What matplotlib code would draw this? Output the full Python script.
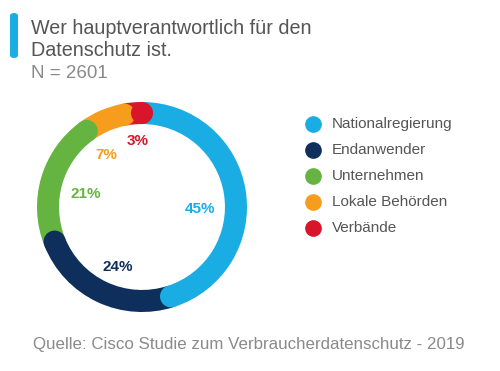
import numpy as np
import matplotlib
matplotlib.use("Agg")
import matplotlib.pyplot as plt
from matplotlib.patches import Circle, FancyBboxPatch

# =========================
# DATEN
# =========================
kategorien = ["Nationalregierung", "Endanwender", "Unternehmen", "Lokale Behörden", "Verbände"]
anteile = [45, 24, 21, 7, 3]
farben = ["#1AADE4", "#0E2E5C", "#65B441", "#F79D1E", "#D8152A"]

titel = "Wer hauptverantwortlich für den\nDatenschutz ist."
untertitel = "N = 2601"
quelle = "Quelle: Cisco Studie zum Verbraucherdatenschutz - 2019"

# Lage der Prozentwerte: Winkelversatz (Grad) und Abstand vom Mittelpunkt
label_versatz = [11, -3, -3, -11.5, 1.5]
label_abstand = [0.55, 0.62, 0.55, 0.60, 0.63]

W, H = 500, 371
plt.rcParams["font.family"] = ["Liberation Sans", "DejaVu Sans"]

fig = plt.figure(figsize=(W / 100, H / 100), dpi=100)
fig.patch.set_facecolor("white")


def fx(px):
    return px / W


def fy(py):
    return 1 - py / H


# =========================
# DONUT
# =========================
cx, cy, r_px = 142, 207, 105
pad = 110
ax = fig.add_axes([fx(cx - pad), fy(cy + pad), 2 * pad / W, 2 * pad / H])
ring = 0.21

wedges, _ = ax.pie(anteile, colors=farben, startangle=90, counterclock=False,
                   radius=1, wedgeprops=dict(width=ring, linewidth=0))

# abgerundete Enden (jedes Segment endet rund ueber dem naechsten)
mid_r = 1 - ring / 2
kum = np.cumsum(anteile) / sum(anteile)
for k, c in zip(kum, farben):
    ang = np.deg2rad(90 - 360 * k)
    ax.add_patch(Circle((mid_r * np.cos(ang), mid_r * np.sin(ang)), ring / 2,
                        color=c, linewidth=0, zorder=3))

# Prozentwerte
start = 0
for a, c, dv, r in zip(anteile, farben, label_versatz, label_abstand):
    mitte = 360 * (start + a / 2) / sum(anteile) + dv
    start += a
    ang = np.deg2rad(90 - mitte)
    ax.text(r * np.cos(ang), r * np.sin(ang), f"{a}%", color=c,
            fontsize=11, fontweight="bold", ha="center", va="center")

lim = pad / r_px
ax.set_xlim(-lim, lim)
ax.set_ylim(-lim, lim)
ax.set_aspect("equal")
ax.axis("off")

# =========================
# TITEL
# =========================
fig.patches.append(FancyBboxPatch((fx(10), fy(58)), fx(8), 45 / H,
                                  boxstyle="round,pad=0,rounding_size=0.008",
                                  transform=fig.transFigure, facecolor="#1AADE4",
                                  edgecolor="none"))
fig.text(fx(31), fy(19), titel, fontsize=14.2, color="#555555", va="top",
         ha="left", linespacing=1.2)
fig.text(fx(31), fy(65), untertitel, fontsize=13.5, color="#8a8a8a", va="top", ha="left")

# =========================
# LEGENDE
# =========================
for i, (kat, c) in enumerate(zip(kategorien, farben)):
    y = 124 + i * 26
    fig.text(fx(332), fy(y), kat, fontsize=11, color="#555555", va="center", ha="left")
    fig.lines.append(plt.Line2D([fx(313)], [fy(y)], marker="o", markersize=11,
                                color=c, transform=fig.transFigure))

# =========================
# QUELLE
# =========================
fig.text(fx(33), fy(344), quelle, fontsize=12.2, color="#8a8a8a", va="center", ha="left")

fig.savefig("out.png", dpi=100)
